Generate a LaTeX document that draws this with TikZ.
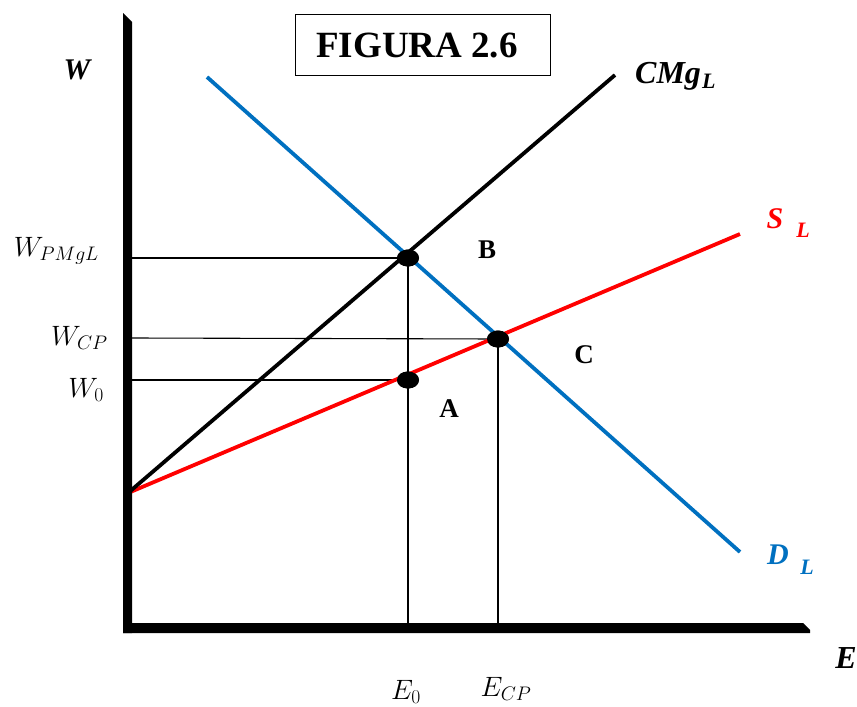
\RequirePackage{fix-cm}
\documentclass[tikz,border=0pt]{standalone}
\usepackage{fontspec}
\setmainfont{Liberation Serif}
\usetikzlibrary{shapes.geometric}
\definecolor{sred}{RGB}{255,0,0}
\definecolor{dblue}{RGB}{0,112,192}
\tikzset{
  thinl/.style={line width=1.1pt, black},
  curve/.style={line width=3.8pt, line cap=butt},
  dot/.style={ellipse, fill=black, minimum width=22pt, minimum height=17pt, inner sep=0pt},
  lab/.style={inner sep=0pt, font=\fontsize{28}{32}\selectfont},
  blab/.style={inner sep=0pt, font=\fontsize{30}{34}\selectfont\bfseries\itshape},
  sublab/.style={inner sep=0pt, font=\fontsize{22}{26}\selectfont\bfseries\itshape},
  pt/.style={inner sep=0pt, font=\fontsize{27}{30}\selectfont\bfseries},
}
\begin{document}
\begin{tikzpicture}[x=1pt,y=-1pt]
\useasboundingbox (0,0) rectangle (857,707);
% key coordinates
\coordinate (o) at (128,493);
\coordinate (cm) at (615,75);
\coordinate (s) at (740,234);
\coordinate (d1) at (207,77);
\coordinate (d2) at (740,552);
% dots
\node[dot] (B) at (408,258) {};
\node[dot] (C) at (498,339) {};
\node[dot] (A) at (408,380) {};
% axis feet
\coordinate (yB) at (132,258);
\coordinate (yC) at (132,338);
\coordinate (yA) at (132,380);
\coordinate (xB) at (408,628);
\coordinate (xC) at (498,628);
% thin guide lines
\draw[thinl] (B.center) -- (yB);
\draw[thinl] (C.center) -- (yC);
\draw[thinl] (A.center) -- (yA);
\draw[thinl] (B.center) -- (xB);
\draw[thinl] (C.center) -- (xC);
% curves
\draw[curve, sred] (o) -- (s);
\draw[curve, dblue] (d1) -- (d2);
\draw[curve, black] (o) -- (cm);
% axes
\fill[black] (123,13) -- (132,22) -- (132,633) -- (123,633) -- cycle;
\fill[black] (123,623) -- (803,623) -- (810,630) -- (810,633) -- (123,633) -- cycle;
% dots on top
\node[dot] at (B) {};
\node[dot] at (C) {};
\node[dot] at (A) {};
% title
\node[draw, line width=0.9pt, minimum width=255pt, minimum height=61pt, inner sep=0pt] (title) at (422.5,44.5) {};
\node[inner sep=0pt, font=\fontsize{37}{40}\selectfont\bfseries] (tt) at (417,46) {FIGURA 2.6};
% point labels
\node[pt] (lB) at (487,250) {B};
\node[pt] (lC) at (584,355) {C};
\node[pt] (lA) at (449,409) {A};
% axis labels
\node[blab] (W) at (77,70) {W};
\node[blab, font=\fontsize{32}{36}\selectfont\bfseries\itshape] (E) at (846,658) {E};
\node[lab, anchor=east] (wpm) at (99,251) {$W_{PMgL}$};
\node[lab, anchor=east] (wcp) at (108,338) {$W_{CP}$};
\node[lab, anchor=east] (w0) at (104,390) {$W_{0}$};
\node[lab] (e0) at (406,692) {$E_{0}$};
\node[lab] (ecp) at (506,689) {$E_{CP}$};
% curve labels
\node[blab, anchor=base west, font=\fontsize{32}{36}\selectfont\bfseries\itshape] (lcm) at (635,83) {CMg\kern1pt\raisebox{-5pt}{\fontsize{22}{26}\selectfont L}};
\node[blab, text=sred, anchor=base] (lS) at (775,228) {S};
\node[sublab, text=sred, anchor=base] (lSL) at (803,237) {L};
\node[blab, text=dblue, anchor=base] (lD) at (778,564) {D};
\node[sublab, text=dblue, anchor=base] (lDL) at (807,574) {L};
\end{tikzpicture}
\end{document}
